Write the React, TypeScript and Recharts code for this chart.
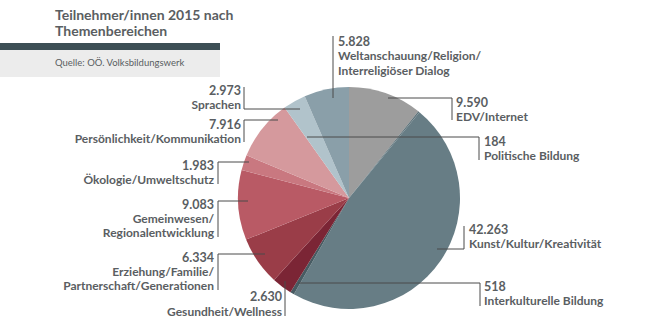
import React from "react";
import { PieChart, Pie, Cell } from "recharts";

const categories = [
  "EDV/Internet",
  "Politische Bildung",
  "Kunst/Kultur/Kreativität",
  "Interkulturelle Bildung",
  "Gesundheit/Wellness",
  "Erziehung/Familie/\nPartnerschaft/Generationen",
  "Gemeinwesen/\nRegionalentwicklung",
  "Ökologie/Umweltschutz",
  "Persönlichkeit/Kommunikation",
  "Sprachen",
  "Weltanschauung/Religion/\nInterreligiöser Dialog",
];

const participants = [9590, 184, 42263, 518, 2630, 6334, 9083, 1983, 7916, 2973, 5828];

const colors = [
  "#9d9d9d",
  "#5f737a",
  "#677d85",
  "#475b62",
  "#7b2535",
  "#9a3d48",
  "#b95a65",
  "#c97880",
  "#d5999d",
  "#b1c3cb",
  "#8a9fa9",
];

const title = ["Teilnehmer/innen 2015 nach", "Themenbereichen"];
const source = "Quelle: OÖ. Volksbildungswerk";

// label layout: offsets relative to pie centre
const labelLayout = [
  { path: [[39, -100], [103, -100], [103, -78]], tx: 107, anchor: "start", ys: [-91, -77] },
  { path: [[-42, -61], [130, -61], [130, -38]], tx: 135, anchor: "start", ys: [-52, -38] },
  { path: [[88, 51], [115, 51], [115, 28]], tx: 120, anchor: "start", ys: [36, 50] },
  { path: [[-51, 85], [131, 85], [131, 108]], tx: 135, anchor: "start", ys: [93, 107] },
  { path: [[-64, 83], [-64, 118]], tx: -67, anchor: "end", ys: [103, 118] },
  { path: [[-84, 56], [-131, 56], [-131, 92]], tx: -135, anchor: "end", ys: [64, 78, 92] },
  { path: [[-101, 3], [-131, 3], [-131, 39]], tx: -135, anchor: "end", ys: [11, 25, 39] },
  { path: [[-100, -36], [-131, -36], [-131, -14]], tx: -135, anchor: "end", ys: [-28, -14] },
  { path: [[-71, -78], [-105, -78], [-105, -56]], tx: -108, anchor: "end", ys: [-69, -55] },
  { path: [[-49, -89], [-105, -89], [-105, -111]], tx: -108, anchor: "end", ys: [-103, -89] },
  { path: [[-16, -100], [-16, -162]], tx: -11, anchor: "start", ys: [-152, -138, -123] },
];

const data = categories.map((name, i) => ({ name, value: participants[i] }));

const fmt = (v: number) => String(v).replace(/\B(?=(\d{3})+(?!\d))/g, ".");

const TEXT = "#5a5e62";
const FONT = "Lato, 'Open Sans', sans-serif";

const renderLabel = (props: any) => {
  const { cx, cy, index, value, name } = props;
  const l = labelLayout[index];
  if (!l) return null;
  const pts = l.path.map(([x, y]) => `${cx + x},${cy + y}`).join(" ");
  const lines = [fmt(value), ...String(name).split("\n")];
  return (
    <g key={`lbl-${index}`}>
      <polyline points={pts} fill="none" stroke="#4a4a4a" strokeWidth={1} />
      {lines.map((t, j) => (
        <text
          key={j}
          x={cx + l.tx}
          y={cy + l.ys[j]}
          textAnchor={l.anchor as any}
          fill={TEXT}
          fontFamily={FONT}
          fontWeight={700}
          fontSize={j === 0 ? 12.5 : 12}
        >
          {t}
        </text>
      ))}
    </g>
  );
};

export default function App() {
  return (
    <div style={{ position: "absolute", left: 0, top: 0, width: 645, height: 333, background: "#fff" }}>
      <div style={{ position: "absolute", left: 0, top: 43, width: 220, height: 7, background: "#3d4f55" }} />
      <div style={{ position: "absolute", left: 0, top: 50, width: 220, height: 27, background: "#ececec" }} />
      <svg width={645} height={333} style={{ position: "absolute", left: 0, top: 0 }}>
        <text x={55} y={20} fill={TEXT} fontFamily={FONT} fontWeight={700} fontSize={14}>{title[0]}</text>
        <text x={55} y={36} fill={TEXT} fontFamily={FONT} fontWeight={700} fontSize={14}>{title[1]}</text>
        <text x={55} y={66} fill={TEXT} fontFamily={FONT} fontSize={9.5}>{source}</text>
      </svg>
      <div style={{ position: "absolute", left: 0, top: 0 }}>
        <PieChart width={645} height={333} margin={{ top: 0, right: 0, bottom: 0, left: 0 }}>
          <Pie
            data={data}
            dataKey="value"
            nameKey="name"
            cx={349}
            cy={198}
            outerRadius={111}
            startAngle={90}
            endAngle={-270}
            stroke="none"
            isAnimationActive={false}
            labelLine={false}
            label={renderLabel}
          >
            {data.map((d, i) => (
              <Cell key={d.name} fill={colors[i]} />
            ))}
          </Pie>
        </PieChart>
      </div>
    </div>
  );
}
